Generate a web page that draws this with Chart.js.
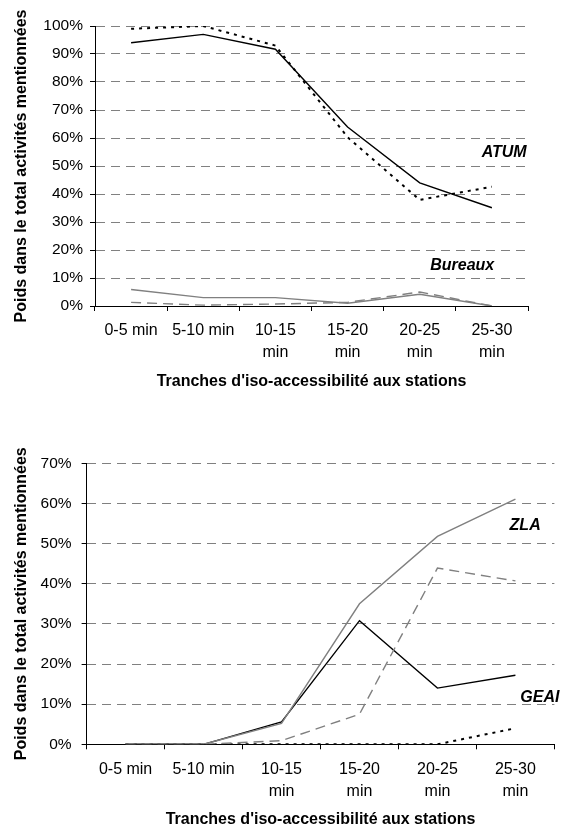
<!DOCTYPE html>
<html>
<head>
<meta charset="utf-8">
<script src="https://cdn.jsdelivr.net/npm/chart.js@4/dist/chart.umd.min.js"></script>
<style>
  html, body { margin: 0; padding: 0; background: #fff; }
  #wrap { position: relative; width: 561px; height: 829px; overflow: hidden; }
  .box { position: absolute; left: 0; width: 561px; }
  #b1 { top: 0; height: 394px; }
  #b2 { top: 400px; height: 429px; }
</style>
</head>
<body>
<div id="wrap">
  <div class="box" id="b1"><canvas id="c1"></canvas></div>
  <div class="box" id="b2"><canvas id="c2"></canvas></div>
</div>
<script>
// ---- Data ----
const categories = ['0-5 min', '5-10 min', ['10-15', 'min'], ['15-20', 'min'], ['20-25', 'min'], ['25-30', 'min']];

// Top chart (ATUM / Bureaux)
const atumSolid   = [94.0, 97.0, 91.7, 63.9, 44.0, 35.1];
const atumDotted  = [99.0, 100.0, 93.0, 60.3, 37.9, 42.6];
const bureauxSolid  = [5.9, 3.0, 3.0, 1.0, 4.2, 0.0];
const bureauxDashed = [1.3, 0.3, 0.7, 1.3, 5.0, 0.0];
const topTicks = [0, 10, 20, 30, 40, 50, 60, 70, 80, 90, 100];

// Bottom chart (ZLA / GEAI)
const zlaSolid   = [0.0, 0.0, 5.2, 35.0, 51.8, 61.1];
const zlaDashed  = [0.0, 0.0, 0.9, 7.5, 43.9, 40.7];
const geaiSolid  = [0.0, 0.0, 5.6, 30.8, 14.0, 17.2];
const geaiDotted = [0.0, 0.0, 0.0, 0.0, 0.0, 4.0];
const bottomTicks = [0, 10, 20, 30, 40, 50, 60, 70];

const yTitle = 'Poids dans le total activités mentionnées';
const xTitle = "Tranches d'iso-accessibilité aux stations";

// ---- Styling ----
const FONT = "'Liberation Sans', Arial, Helvetica, sans-serif";
Chart.defaults.font.family = FONT;
Chart.defaults.color = '#000';

const styles = {
  solidBlack: { borderColor: '#000', borderWidth: 1.4, borderDash: [] },
  dottedBlack: { borderColor: '#000', borderWidth: 2, borderDash: [3, 5] },
  solidGray: { borderColor: '#808080', borderWidth: 1.4, borderDash: [] },
  dashedGray: { borderColor: '#808080', borderWidth: 1.4, borderDash: [10, 6] }
};

function ds(label, data, style) {
  return Object.assign({
    label, data, fill: false, tension: 0, pointRadius: 0, pointHoverRadius: 0
  }, style);
}

const annotPlugin = {
  id: 'annot',
  afterDatasetsDraw(chart, args, opts) {
    const { ctx, chartArea, scales } = chart;
    ctx.save();
    ctx.font = 'italic bold 16px ' + FONT;
    ctx.fillStyle = '#000';
    ctx.textBaseline = 'middle';
    (opts.items || []).forEach(it => {
      const x = it.fromRight !== undefined ? chartArea.right - it.fromRight : scales.x.getPixelForValue(it.cat) + (it.dx || 0);
      const y = scales.y.getPixelForValue(it.val);
      ctx.textAlign = it.align || 'right';
      ctx.fillText(it.text, x, y);
    });
    ctx.restore();
  }
};

function makeChart(id, datasets, ticks, geom, annots) {
  const maxV = ticks[ticks.length - 1];
  return new Chart(document.getElementById(id), {
    type: 'line',
    data: { labels: categories, datasets },
    plugins: [annotPlugin],
    options: {
      responsive: true,
      maintainAspectRatio: false,
      animation: false,
      layout: { padding: { left: 0, right: geom.padRight, top: geom.top, bottom: 0 } },
      plugins: {
        legend: { display: false },
        tooltip: { enabled: false },
        annot: { items: annots }
      },
      scales: {
        x: {
          type: 'category',
          offset: true,
          grid: {
            display: true, offset: true, drawOnChartArea: false, drawTicks: true,
            tickLength: 5, tickColor: '#000', tickWidth: 1
          },
          border: { display: true, color: '#000', width: 1 },
          ticks: {
            font: { size: 16, lineHeight: 1.35 }, color: '#000', maxRotation: 0, autoSkip: false,
            padding: geom.xTickPad
          },
          title: {
            display: true, text: xTitle, font: { size: 16, weight: 'bold' },
            padding: { top: 0, bottom: geom.xTitlePad }
          },
          afterFit(scale) { scale.height = geom.xHeight; }
        },
        y: {
          min: 0, max: maxV,
          afterBuildTicks(scale) { scale.ticks = ticks.map(v => ({ value: v })); },
          grid: {
            display: true, drawOnChartArea: true, drawTicks: true,
            color: c => (c.tick && c.tick.value === 0) ? 'rgba(0,0,0,0)' : '#808080',
            lineWidth: 1,
            tickLength: 5, tickColor: '#000', tickWidth: 1, tickBorderDash: []
          },
          border: { display: true, color: '#000', width: 1, dash: [9, 6] },
          ticks: {
            font: { size: 15.5 }, color: '#000', padding: geom.yTickPad,
            callback: v => v + '%'
          },
          title: {
            display: true, text: yTitle, font: { size: 16, weight: 'bold' },
            padding: { top: 12, bottom: 0 }
          },
          afterFit(scale) { scale.width = geom.yWidth; }
        }
      }
    }
  });
}

makeChart('c1', [
  ds('Bureaux (b)', bureauxDashed, styles.dashedGray),
  ds('Bureaux (a)', bureauxSolid, styles.solidGray),
  ds('ATUM (b)', atumDotted, styles.dottedBlack),
  ds('ATUM (a)', atumSolid, styles.solidBlack)
], topTicks,
  { padRight: 33, top: 26, yWidth: 95, xHeight: 88, xTickPad: 9, yTickPad: 7, xTitlePad: 2.7 },
  [
    { text: 'ATUM', fromRight: 1.3, val: 54.75, align: 'right' },
    { text: 'Bureaux', cat: 5, dx: 2.3, val: 14.6, align: 'right' }
  ]);

makeChart('c2', [
  ds('ZLA (b)', zlaDashed, styles.dashedGray),
  ds('ZLA (a)', zlaSolid, styles.solidGray),
  ds('GEAI (b)', geaiDotted, styles.dottedBlack),
  ds('GEAI (a)', geaiSolid, styles.solidBlack)
], bottomTicks,
  { padRight: 6.6, top: 63.3, yWidth: 86.6, xHeight: 84.7, xTickPad: 9.9, yTickPad: 10, xTitlePad: 0 },
  [
    { text: 'ZLA', fromRight: 13.7, val: 54.6, align: 'right' },
    { text: 'GEAI', fromRight: -5, val: 11.6, align: 'right' }
  ]);
</script>
</body>
</html>
